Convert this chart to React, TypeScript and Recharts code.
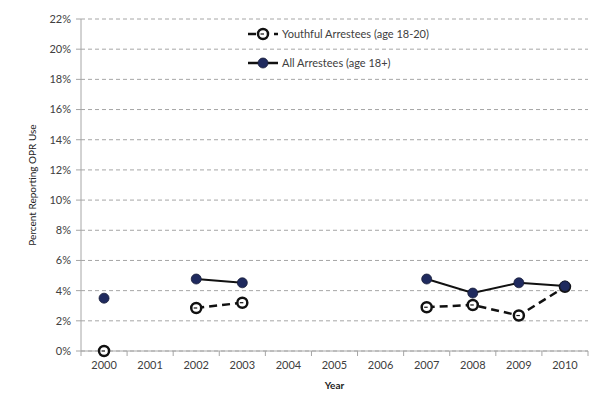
import { CartesianGrid, Line, LineChart, XAxis, YAxis } from "recharts";

const years = ["2000", "2001", "2002", "2003", "2004", "2005", "2006", "2007", "2008", "2009", "2010"];
const youthful = [0, null, 2.85, 3.2, null, null, null, 2.9, 3.05, 2.35, 4.25];
const allArrestees = [3.5, null, 4.77, 4.52, null, null, null, 4.77, 3.84, 4.52, 4.3];
const yTicks = [0, 2, 4, 6, 8, 10, 12, 14, 16, 18, 20, 22];

const data = years.map((year, i) => ({ year, youthful: youthful[i], all: allArrestees[i] }));

const FONT = "Lato, 'Open Sans', sans-serif";
const TEXT = "#404040";
const NAVY = "#1f2a5e";
const PLOT_W = 507;
const HALF = PLOT_W / years.length / 2;

const YouthDot = (props: any) => {
  const { cx, cy, value } = props;
  if (value == null || cx == null || cy == null) return null;
  return (
    <g>
      <circle cx={cx} cy={cy} r={5} fill="#fff" stroke="#111" strokeWidth={2.5} />
      <line x1={cx - 2.5} x2={cx + 1} y1={cy} y2={cy} stroke="#111" strokeWidth={1.2} />
    </g>
  );
};

const AllDot = (props: any) => {
  const { cx, cy, value } = props;
  if (value == null || cx == null || cy == null) return null;
  return <circle cx={cx} cy={cy} r={5} fill={NAVY} stroke="#1a1f3a" strokeWidth={0.8} />;
};

const XTick = (props: any) => {
  const { x, y, payload, index } = props;
  return (
    <g>
      {index === 0 && <line x1={x - HALF} x2={x - HALF} y1={y - 8} y2={y - 3} stroke="#a6a6a6" />}
      <line x1={x + HALF} x2={x + HALF} y1={y - 8} y2={y - 3} stroke="#a6a6a6" />
      <text x={x} y={y + 10} textAnchor="middle" fill={TEXT} fontSize={11} fontFamily={FONT}>
        {payload.value}
      </text>
    </g>
  );
};

const LegendBox = () => (
  <svg width={220} height={50}>
    <line x1={4} x2={34} y1={10} y2={10} stroke="#111" strokeWidth={2.5} strokeDasharray="8 5" />
    <YouthDot cx={19} cy={10} value={1} />
    <text x={38} y={14} fill={TEXT} fontSize={11} fontFamily={FONT}>Youthful Arrestees (age 18-20)</text>
    <line x1={4} x2={34} y1={39} y2={39} stroke="#111" strokeWidth={2.5} />
    <AllDot cx={19} cy={39} value={1} />
    <text x={38} y={43} fill={TEXT} fontSize={11} fontFamily={FONT}>All Arrestees (age 18+)</text>
  </svg>
);

export default function App() {
  return (
    <div style={{ position: "relative", width: 600, height: 402, background: "#fff" }}>
      <style>{`body{margin:0}`}</style>
      <LineChart width={600} height={402} data={data} margin={{ top: 19, right: 12, bottom: 11, left: 0 }}>
        <CartesianGrid stroke="#a6a6a6" strokeDasharray="4 3" vertical={false} />
        <XAxis
          dataKey="year"
          height={40}
          padding={{ left: HALF, right: HALF }}
          axisLine={{ stroke: "#a6a6a6" }}
          tickLine={false}
          tick={<XTick />}
          interval={0}
          label={{ value: "Year", position: "insideBottom", offset: 2, fill: "#222", fontSize: 10, fontWeight: 700, fontFamily: FONT }}
        />
        <YAxis
          width={81}
          domain={[0, 22]}
          ticks={yTicks}
          interval={0}
          tickFormatter={(v: number) => `${v}%`}
          axisLine={{ stroke: "#a6a6a6" }}
          tickLine={{ stroke: "#a6a6a6" }}
          tickSize={5}
          tickMargin={5}
          tick={{ fill: TEXT, fontSize: 11, fontFamily: FONT }}
          label={{ value: "Percent Reporting OPR Use", angle: -90, position: "insideLeft", offset: 32, fill: "#222", fontSize: 10, fontFamily: FONT, style: { textAnchor: "middle" } }}
        />
        <Line
          dataKey="youthful"
          stroke="#111"
          strokeWidth={2.5}
          strokeDasharray="8 5"
          dot={<YouthDot />}
          activeDot={false}
          connectNulls={false}
          isAnimationActive={false}
        />
        <Line
          dataKey="all"
          stroke="#111"
          strokeWidth={2}
          dot={<AllDot />}
          activeDot={false}
          connectNulls={false}
          isAnimationActive={false}
        />
      </LineChart>
      <div style={{ position: "absolute", top: 24, left: 244 }}>
        <LegendBox />
      </div>
    </div>
  );
}
